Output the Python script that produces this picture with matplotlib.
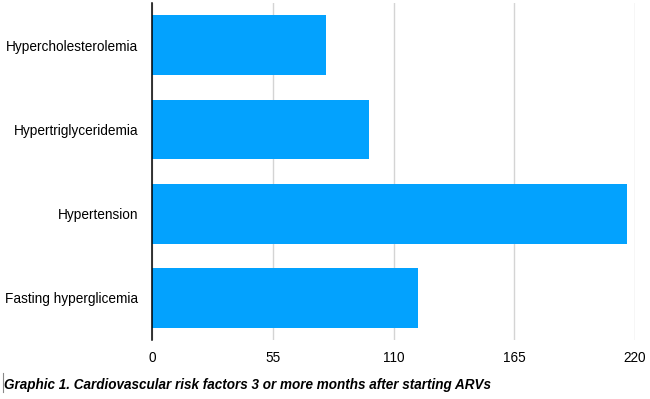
import matplotlib
matplotlib.use('Agg')
import matplotlib.pyplot as plt

plt.rcParams['font.family'] = ['Liberation Sans', 'DejaVu Sans']

categories = ['Hypercholesterolemia', 'Hypertriglyceridemia', 'Hypertension', 'Fasting hyperglicemia']
values = [79, 99, 216.5, 121]
xticks = [0, 55, 110, 165, 220]
caption = 'Graphic 1. Cardiovascular risk factors 3 or more months after starting ARVs'

fig = plt.figure(figsize=(6.5, 3.99), dpi=100)
ax = fig.add_axes([0.234, 0.148, 0.743, 0.844])

ax.barh(range(len(categories)), values, height=0.71, color='#03A2FE', zorder=2)
ax.set_ylim(3.5, -0.5)
ax.set_xlim(0, 220)
ax.set_yticks(range(len(categories)))
ax.set_yticklabels(categories, fontsize=9.8)
ax.set_xticks(xticks)
ax.set_xticklabels([str(t) for t in xticks], fontsize=9.8)
ax.tick_params(length=0, pad=8)
ax.tick_params(axis='y', pad=10)

ax.grid(axis='x', color='#d4d4d4', lw=1, zorder=0)
for s in ['top', 'right', 'bottom']:
    ax.spines[s].set_visible(False)
ax.spines['left'].set_color('black')
ax.spines['left'].set_linewidth(1.1)
ax.spines['left'].set_zorder(3)

fig.text(0.006, 0.024, caption, fontsize=9.75, fontweight='bold', fontstyle='italic')
fig.add_artist(plt.Line2D([0.004, 0.004], [0.017, 0.064], color='#888888', lw=0.8))

fig.savefig('out.png', dpi=100)
